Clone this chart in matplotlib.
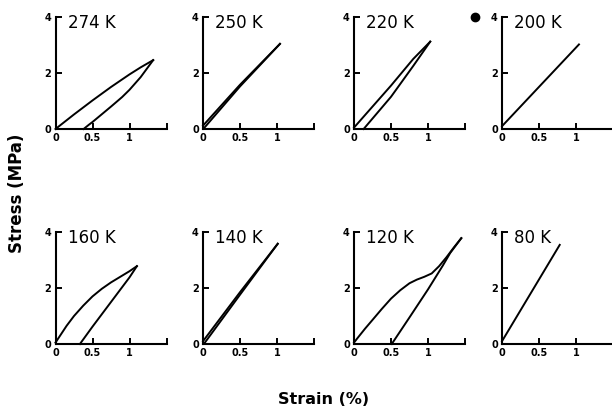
import matplotlib
matplotlib.use('Agg')
import matplotlib.pyplot as plt
from matplotlib.lines import Line2D

# Temperatur-Beschriftungen der acht Teilbilder
temps = ['274 K', '250 K', '220 K', '200 K', '160 K', '140 K', '120 K', '80 K']

# Belastung / Entlastung je Temperatur (Dehnung in %, Spannung in MPa)
load_strain = {
    '274 K': [0, 0.25, 0.5, 0.75, 1.0, 1.15, 1.32],
    '250 K': [0, 0.5, 1.04],
    '220 K': [0, 0.5, 0.8, 1.03],
    '200 K': [0, 1.04],
    '160 K': [0, 0.05, 0.15, 0.25, 0.375, 0.5, 0.625, 0.75, 0.875, 1.0, 1.1],
    '140 K': [0, 0.5, 1.01],
    '120 K': [0, 0.05, 0.15, 0.25, 0.375, 0.5, 0.625, 0.75, 0.85, 0.95,
              1.05, 1.15, 1.25, 1.35, 1.45],
    '80 K': [0, 0.78],
}
load_stress = {
    '274 K': [0, 0.52, 1.02, 1.5, 1.95, 2.2, 2.46],
    '250 K': [0.12, 1.58, 3.04],
    '220 K': [0.05, 1.55, 2.5, 3.12],
    '200 K': [0.1, 3.02],
    '160 K': [0.05, 0.25, 0.65, 1.0, 1.37, 1.7, 1.97, 2.2, 2.4, 2.6, 2.78],
    '140 K': [0.1, 1.85, 3.58],
    '120 K': [0.05, 0.22, 0.55, 0.86, 1.25, 1.62, 1.92, 2.17, 2.3, 2.4,
              2.52, 2.78, 3.1, 3.45, 3.78],
    '80 K': [0.1, 3.54],
}
unload_strain = {
    '274 K': [0.38, 0.45, 0.5, 0.6, 0.75, 0.9, 1.0, 1.15, 1.32],
    '250 K': [0.02, 0.5, 1.04],
    '220 K': [0.13, 0.5, 0.8, 1.03],
    '160 K': [0.33, 0.5, 0.75, 1.0, 1.1],
    '140 K': [0.02, 0.5, 1.01],
    '120 K': [0.51, 0.75, 1.0, 1.2, 1.3, 1.45],
}
unload_stress = {
    '274 K': [0, 0.15, 0.25, 0.47, 0.8, 1.14, 1.4, 1.85, 2.46],
    '250 K': [0.05, 1.52, 3.04],
    '220 K': [0, 1.15, 2.25, 3.12],
    '160 K': [0, 0.62, 1.5, 2.38, 2.78],
    '140 K': [0.03, 1.76, 3.58],
    '120 K': [0, 0.95, 1.95, 2.8, 3.25, 3.78],
}

plt.rcParams['font.family'] = 'DejaVu Sans'

W, H = 612, 413
fig = plt.figure(figsize=(W / 100, H / 100), dpi=100)

lefts = [55.5, 203, 354, 502]   # Pixel, linke Achse
bottoms = [129, 344]            # Pixel von oben, x-Achse
aw, ah = 111, 112

for i, t in enumerate(temps):
    row, col = divmod(i, 4)
    ax = fig.add_axes([lefts[col] / W, 1 - bottoms[row] / H, aw / W, ah / H])
    ax.plot(load_strain[t], load_stress[t], color='black', lw=1.4, clip_on=False)
    if t in unload_strain:
        ax.plot(unload_strain[t], unload_stress[t], color='black', lw=1.4, clip_on=False)
    ax.set_xlim(0, 1.5)
    ax.set_ylim(0, 4)
    ax.set_xticks([0, 0.5, 1, 1.5])
    ax.set_xticklabels(['0', '0.5', '1', ''])
    ax.set_yticks([0, 2, 4])
    ax.set_yticklabels(['0', '2', '4'])
    for s in ['top', 'right']:
        ax.spines[s].set_visible(False)
    for s in ['left', 'bottom']:
        ax.spines[s].set_linewidth(1.5)
    ax.tick_params(direction='in', length=4, width=1.4, labelsize=7, pad=3)
    for lab in ax.get_xticklabels() + ax.get_yticklabels():
        lab.set_fontweight('bold')
    ax.patch.set_alpha(0)
    ax.text(0.11, 0.945, t, transform=ax.transAxes, fontsize=12,
            ha='left', va='center')

# schwarzer Punkt oben rechts
fig.add_artist(Line2D([475 / W], [1 - 16.5 / H], marker='o', markersize=6,
                      color='black', transform=fig.transFigure))

fig.text(17 / W, 1 - 193 / H, 'Stress (MPa)', rotation=90, fontsize=12,
         fontweight='bold', ha='center', va='center')
fig.text(324 / W, 1 - 399 / H, 'Strain (%)', fontsize=11.5,
         fontweight='bold', ha='center', va='center')

fig.savefig('out.png', dpi=100)
